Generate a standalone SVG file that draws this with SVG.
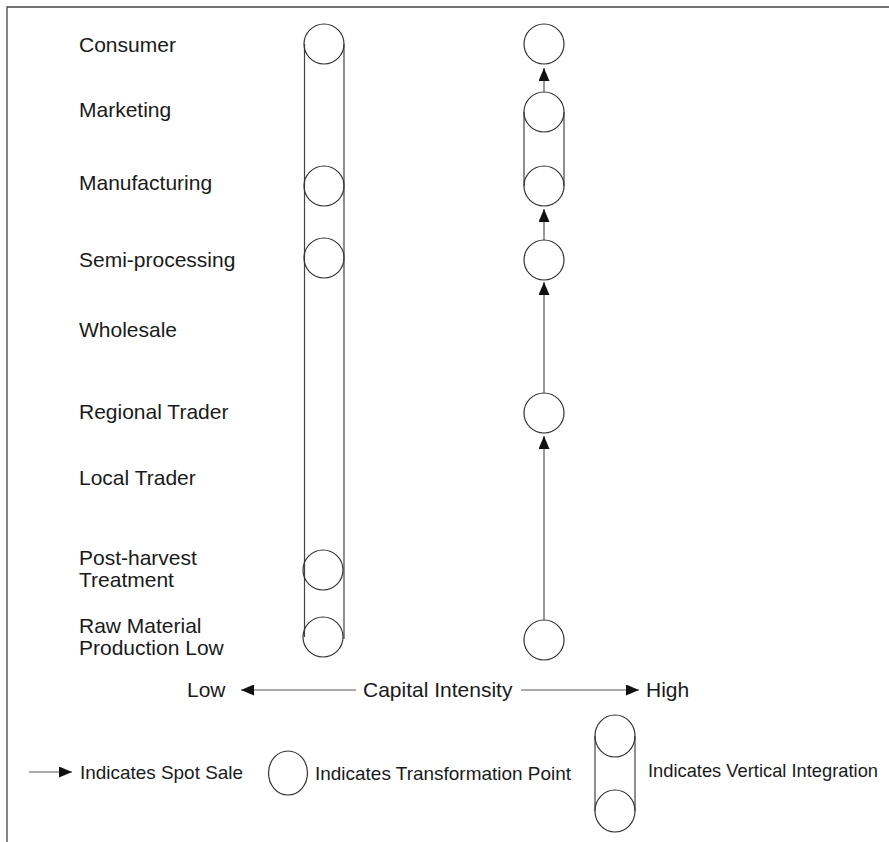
<svg xmlns="http://www.w3.org/2000/svg" width="889" height="842" viewBox="0 0 889 842">
<style>
.lbl{font-family:"Liberation Sans",Arial,sans-serif;font-size:21px;fill:#1a1a1a}
.leg{font-family:"Liberation Sans",Arial,sans-serif;font-size:19px;fill:#1a1a1a}
.c{fill:none;stroke:#333;stroke-width:1.2}
.l{fill:none;stroke:#444;stroke-width:1.2}
.a{fill:none;stroke:#555;stroke-width:1.2;marker-end:url(#ah)}
</style>
<defs>
<marker id="ah" viewBox="0 0 13 11" refX="13" refY="5.5" markerWidth="13" markerHeight="11" markerUnits="userSpaceOnUse" orient="auto">
<path d="M0,0 L13,5.5 L0,11 Z" fill="#111"/>
</marker>
</defs>
<rect width="889" height="842" fill="#fff"/>
<g id="frame">
<path d="M7,842 V7 H889" fill="none" stroke="#444" stroke-width="1.3"/>
</g>
<g id="labels">
<text class="lbl" x="79" y="52">Consumer</text>
<text class="lbl" x="79" y="117">Marketing</text>
<text class="lbl" x="79" y="190">Manufacturing</text>
<text class="lbl" x="79" y="267">Semi-processing</text>
<text class="lbl" x="79" y="337">Wholesale</text>
<text class="lbl" x="79" y="419">Regional Trader</text>
<text class="lbl" x="79" y="485">Local Trader</text>
<text class="lbl" x="79" y="565">Post-harvest</text>
<text class="lbl" x="79" y="587">Treatment</text>
<text class="lbl" x="79" y="633">Raw Material</text>
<text class="lbl" x="79" y="655">Production Low</text>
</g>
<g id="low-capital-chain">
<line class="l" x1="304.5" y1="44" x2="304.5" y2="637"/>
<line class="l" x1="344" y1="44" x2="344" y2="639"/>
<circle class="c" cx="324" cy="44" r="20"/>
<circle class="c" cx="324" cy="186" r="20"/>
<circle class="c" cx="324" cy="258" r="20"/>
<circle class="c" cx="323" cy="570" r="20"/>
<circle class="c" cx="323" cy="637" r="20"/>
</g>
<g id="high-consumer"><circle class="c" cx="544" cy="44" r="20"/></g>
<g id="high-marketing-manufacturing">
<line class="l" x1="524" y1="112" x2="524" y2="186"/>
<line class="l" x1="564" y1="112" x2="564" y2="186"/>
<circle class="c" cx="544" cy="112" r="20"/>
<circle class="c" cx="544" cy="186" r="20"/>
</g>
<g id="high-semi"><circle class="c" cx="544" cy="260" r="20"/></g>
<g id="high-regional"><circle class="c" cx="544" cy="413" r="20"/></g>
<g id="high-raw"><circle class="c" cx="544" cy="640" r="20"/></g>
<g id="connectors">
<line class="a" x1="544" y1="92" x2="544" y2="68"/>
<line class="a" x1="544" y1="240" x2="544" y2="209"/>
<line class="a" x1="544" y1="393" x2="544" y2="282"/>
<line class="a" x1="544" y1="620" x2="544" y2="436"/>
</g>
<g id="axis">
<text class="lbl" x="187" y="697">Low</text>
<line class="a" x1="356" y1="690" x2="241" y2="690"/>
<text class="lbl" x="363" y="697">Capital Intensity</text>
<line class="a" x1="521" y1="690" x2="639" y2="690"/>
<text class="lbl" x="646" y="697">High</text>
</g>
<g id="legend">
<line class="a" x1="29" y1="772" x2="72" y2="772"/>
<text class="leg" x="80" y="779" textLength="163" lengthAdjust="spacingAndGlyphs">Indicates Spot Sale</text>
<ellipse class="c" cx="288" cy="773" rx="19.5" ry="22"/>
<text class="leg" x="315" y="780" textLength="256" lengthAdjust="spacingAndGlyphs">Indicates Transformation Point</text>
<line class="l" x1="595" y1="736" x2="595" y2="811"/>
<line class="l" x1="635" y1="736" x2="635" y2="811"/>
<ellipse class="c" cx="615" cy="736" rx="20" ry="21"/>
<ellipse class="c" cx="615" cy="811" rx="20" ry="21"/>
<text class="leg" x="648" y="777" textLength="230" lengthAdjust="spacingAndGlyphs">Indicates Vertical Integration</text>
</g>
</svg>
